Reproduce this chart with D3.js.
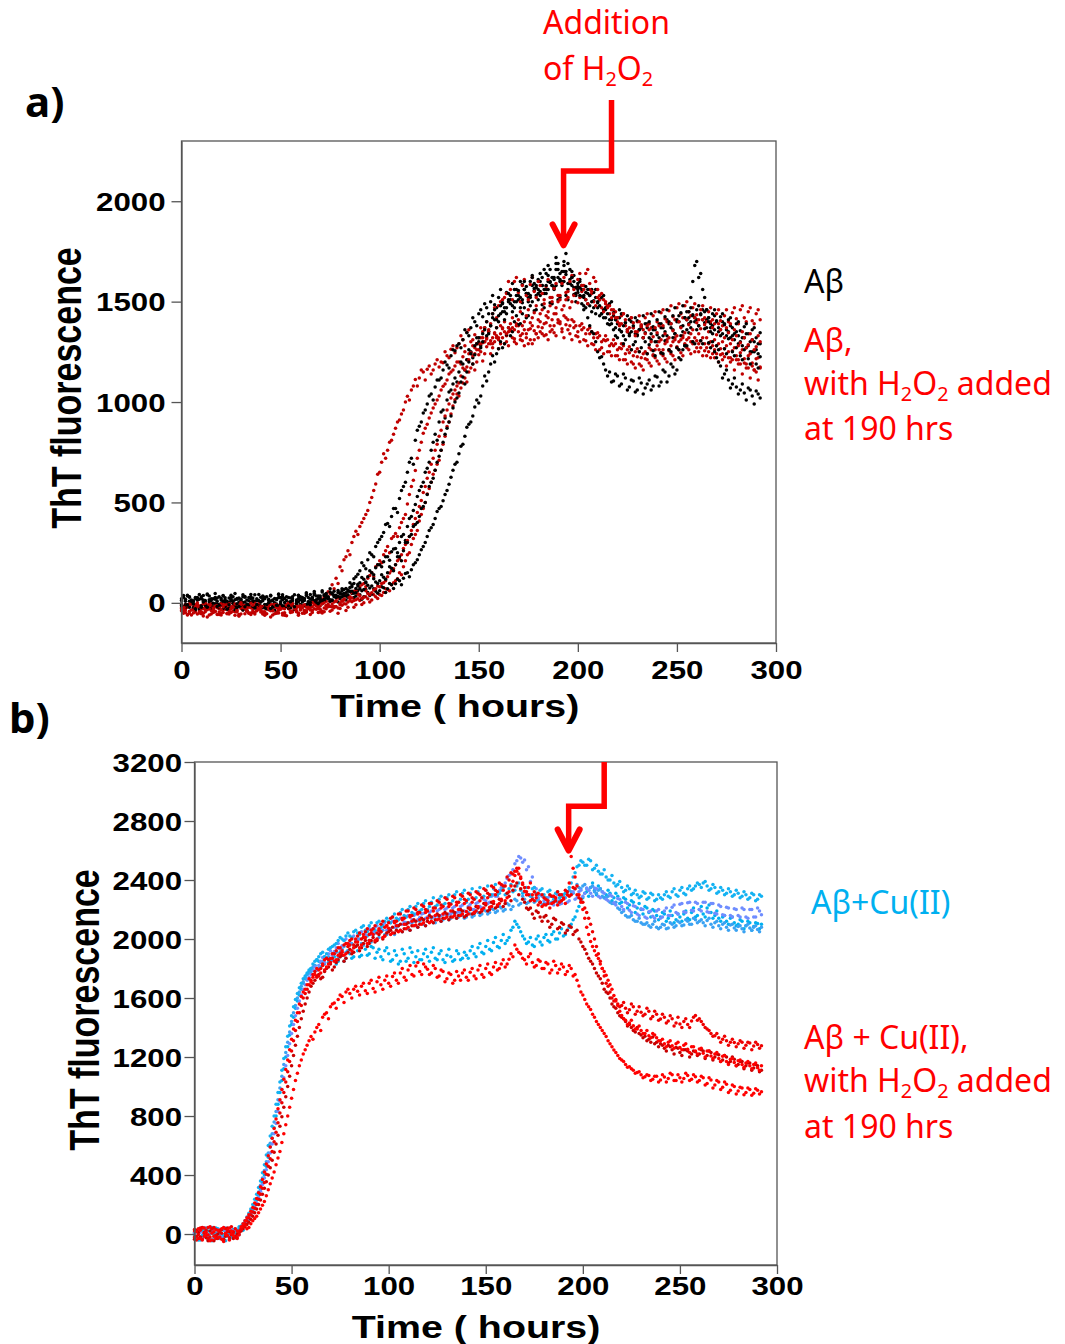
<!DOCTYPE html>
<html><head><meta charset="utf-8">
<script src="https://cdn.jsdelivr.net/npm/d3@7"></script>
<style>body{margin:0;background:#fff}</style>
</head><body>
<svg id="c" width="1065" height="1344" xmlns="http://www.w3.org/2000/svg"></svg>
<script>
// sampling grids (hours): readings every hour, stored as even-hour and odd-hour arrays
const hoursEven = d3.range(0, 293, 2); // 0..292 (147)
const hoursOdd = d3.range(1, 292, 2);  // 1..291 (146)
const xTicks = [0, 50, 100, 150, 200, 250, 300];
const yTicksA = [0, 500, 1000, 1500, 2000];
const yTicksB = [0, 400, 800, 1200, 1600, 2000, 2400, 2800, 3200];

// ================= panel a: Aβ (black) =================
const aBlack1 = [12,-25,30,5,-18,22,-8,15,-30,8,
-12,25,3,-20,18,-5,28,-15,10,-22,
6,20,-28,14,-6,24,-18,2,30,-10,
16,-14,26,8,34,12,40,22,48,30,
44,66,58,90,130,160,185,215,240,280,
315,350,395,430,470,520,580,650,720,810,
880,945,990,1040,1075,1110,1160,1185,1230,1255,
1290,1310,1345,1370,1400,1440,1425,1470,1500,1485,
1520,1490,1545,1510,1560,1530,1585,1540,1600,1565,
1610,1580,1640,1595,1620,1660,1600,1635,1590,1570,
1545,1580,1510,1530,1470,1495,1440,1460,1410,1430,
1390,1350,1395,1340,1370,1330,1380,1345,1320,1360,
1335,1370,1350,1390,1360,1400,1375,1420,1390,1435,
1410,1440,1395,1420,1380,1405,1360,1390,1350,1330,
1350,1300,1320,1280,1310,1260,1290];
const aBlack1Odd = [-20,38,-5,26,-34,10,44,-26,18,-8,
34,-30,12,46,-14,2,-38,22,40,-6,
-24,30,8,-36,42,16,-10,24,-30,36,
4,44,18,56,-2,60,24,70,36,52,
70,50,100,120,142,200,170,250,230,300,
330,390,380,470,450,560,600,700,690,860,
900,960,1030,1010,1110,1120,1200,1170,1260,1280,
1270,1360,1330,1420,1380,1460,1490,1440,1530,1470,
1560,1470,1510,1590,1500,1600,1560,1520,1630,1580,
1550,1660,1600,1580,1690,1610,1650,1560,1620,1530,
1600,1520,1490,1560,1440,1510,1420,1480,1390,1370,
1420,1330,1360,1400,1300,1360,1320,1390,1340,1300,
1390,1330,1410,1370,1340,1430,1380,1450,1400,1420,
1380,1460,1410,1370,1430,1350,1400,1330,1380,1310,
1330,1280,1340,1250,1300,1240];
const aBlack2 = [-5,18,-22,10,26,-14,4,-28,20,-6,
14,-18,24,-2,-24,12,32,-10,6,20,
-16,28,0,-20,16,-4,22,-26,10,4,
-8,20,6,28,2,34,18,30,44,26,
50,38,64,80,72,100,118,130,150,175,
190,205,230,255,270,300,340,380,430,490,
560,600,670,760,840,900,960,1010,1060,1120,
1150,1190,1210,1250,1280,1300,1340,1330,1380,1410,
1400,1450,1440,1490,1470,1510,1495,1540,1520,1555,
1540,1580,1560,1600,1570,1620,1595,1650,1610,1630,
1590,1560,1575,1530,1545,1500,1520,1470,1490,1445,
1420,1440,1395,1410,1380,1405,1370,1390,1400,1375,
1410,1390,1425,1400,1430,1410,1445,1420,1450,1430,
1460,1435,1450,1420,1440,1400,1425,1385,1410,1370,
1390,1355,1375,1340,1360,1320,1345];
const aBlack2Odd = [28,-12,6,-34,18,36,-22,12,-4,30,
-28,8,38,-16,24,-36,14,2,-20,42,
10,-30,34,-8,26,40,-18,6,-32,22,
14,36,-10,48,22,12,40,54,30,62,
30,72,56,96,84,126,104,160,140,190,
180,230,212,268,250,330,310,420,460,530,
580,650,700,800,810,950,920,1050,1090,1100,
1200,1160,1260,1220,1320,1280,1370,1350,1420,1370,
1440,1410,1500,1450,1530,1470,1560,1500,1580,1530,
1600,1540,1630,1580,1660,1600,1680,1590,1650,1570,
1610,1530,1560,1500,1560,1480,1530,1440,1500,1410,
1460,1380,1430,1350,1420,1360,1430,1370,1440,1360,
1450,1370,1460,1390,1470,1400,1480,1410,1470,1400,
1480,1410,1460,1390,1460,1370,1440,1360,1420,1340,
1400,1320,1390,1300,1370,1290];
const aBlack3 = [20,-10,8,-24,14,30,-12,6,-20,24,
-2,16,-26,8,22,-14,4,26,-18,10,
28,-8,12,-22,20,6,-16,26,-4,14,
-10,22,4,18,-6,24,10,28,14,32,
20,36,28,46,34,40,30,52,44,58,
60,75,70,90,95,110,122,150,165,200,
240,280,330,374,420,470,508,560,626,690,
743,790,875,900,975,995,1080,1105,1190,1200,
1265,1270,1335,1330,1400,1385,1440,1420,1480,1455,
1510,1485,1540,1495,1560,1510,1580,1530,1590,1535,
1560,1525,1545,1480,1505,1470,1440,1420,1385,1360,
1320,1350,1310,1330,1285,1335,1270,1300,1285,1255,
1300,1245,1305,1260,1320,1270,1330,1280,1345,1300,
1360,1305,1365,1295,1340,1280,1330,1265,1315,1250,
1270,1230,1260,1215,1250,1190,1225];
const aBlack3Odd = [-18,34,2,22,-30,14,40,-6,26,-24,
36,-12,18,-34,4,30,-20,42,8,-16,
20,-28,38,0,-14,32,12,-26,40,6,
26,-8,42,10,34,-4,46,16,38,4,
44,14,58,26,62,18,66,36,70,48,
80,52,96,72,118,90,146,130,190,215,
265,300,360,390,455,480,540,590,660,700,
780,830,890,930,1010,1030,1130,1150,1230,1240,
1300,1290,1370,1350,1430,1390,1470,1430,1500,1460,
1530,1470,1560,1490,1580,1520,1600,1510,1580,1500,
1570,1480,1540,1450,1520,1430,1460,1390,1410,1330,
1360,1290,1350,1260,1340,1250,1320,1240,1310,1230,
1320,1240,1330,1250,1340,1260,1350,1280,1370,1290,
1380,1290,1370,1270,1360,1260,1340,1240,1320,1230,
1290,1210,1270,1190,1250,1170];
const aBlack4 = [-15,8,28,-6,16,-22,12,34,-2,-18,
22,6,-10,30,-4,18,-20,10,24,-8,
4,-24,18,10,-12,26,2,-16,20,-2,
30,12,-4,24,16,8,36,20,12,38,
28,46,40,58,50,70,66,88,84,104,
110,128,150,172,190,230,260,300,340,390,
430,480,540,600,660,730,800,870,930,1000,
1045,1125,1150,1240,1235,1320,1300,1400,1380,1460,
1430,1495,1470,1530,1500,1555,1510,1575,1530,1590,
1560,1620,1580,1660,1610,1690,1650,1740,1660,1600,
1575,1490,1470,1380,1340,1250,1225,1160,1150,1105,
1130,1090,1120,1075,1105,1060,1095,1070,1110,1080,
1125,1100,1150,1130,1175,1160,1210,1280,1420,1600,
1700,1640,1520,1400,1300,1220,1180,1140,1110,1090,
1075,1060,1045,1070,1030,1055,1020];
const aBlack4Odd = [36,-10,14,-30,42,4,-22,20,46,-12,
8,-32,26,16,-18,40,-6,28,-26,12,
34,-8,-28,22,44,-14,30,6,-20,38,
18,50,2,40,-4,54,26,8,58,32,
60,34,76,48,92,60,100,74,120,96,
140,118,180,160,230,210,300,330,380,400,
470,500,580,620,700,760,840,900,970,1020,
1100,1090,1200,1190,1290,1270,1360,1340,1440,1410,
1480,1450,1540,1480,1560,1520,1600,1540,1620,1570,
1640,1560,1680,1620,1720,1640,1700,1690,1620,1540,
1530,1460,1420,1350,1300,1220,1190,1130,1100,1140,
1080,1140,1060,1110,1050,1120,1040,1090,1060,1130,
1080,1160,1100,1190,1140,1220,1260,1360,1520,1680,
1620,1560,1460,1350,1250,1200,1120,1160,1070,1120,
1040,1090,1010,1060,990,1040];

// ========== panel a: Aβ with H2O2 added at 190 h (red) ==========
const aRed1 = [-30,-8,-42,-20,-55,-15,-35,-5,-48,-25,
-60,-18,-38,-2,-45,-28,-12,-52,-30,-40,
-20,-58,-34,-10,-46,-24,-62,-30,-14,-44,
-22,-38,-6,-20,10,0,30,55,90,122,
180,215,260,300,357,380,420,460,525,592,
650,743,760,810,870,911,960,1029,1060,1112,
1120,1150,1163,1140,1190,1175,1196,1230,1263,1245,
1290,1310,1347,1300,1335,1290,1350,1320,1305,1345,
1310,1370,1330,1355,1300,1380,1340,1320,1365,1310,
1375,1340,1395,1350,1380,1410,1365,1420,1380,1400,
1350,1390,1340,1370,1320,1345,1300,1330,1280,1310,
1260,1290,1240,1275,1230,1265,1220,1250,1270,1235,
1280,1245,1290,1255,1300,1270,1310,1285,1320,1290,
1305,1270,1290,1250,1280,1240,1265,1225,1250,1210,
1230,1190,1215,1170,1195,1150,1175];
const aRed1Odd = [-52,-22,-4,-46,-30,-66,-12,-38,-20,-58,
-34,-6,-48,-26,-64,-16,-40,-24,-56,-8,
-44,-28,-70,-18,-36,-52,-10,-48,-26,-62,
-14,-44,-24,2,-22,18,8,44,70,96,
160,230,240,330,340,400,440,500,560,640,
700,720,800,840,900,940,1000,1010,1080,1080,
1160,1110,1180,1160,1210,1200,1250,1220,1280,1270,
1330,1280,1360,1310,1290,1370,1300,1360,1290,1320,
1380,1290,1350,1320,1390,1310,1360,1290,1380,1340,
1400,1330,1420,1360,1440,1390,1430,1360,1410,1330,
1380,1310,1360,1290,1340,1260,1310,1250,1290,1230,
1270,1210,1260,1200,1250,1190,1240,1210,1260,1220,
1260,1230,1310,1240,1320,1260,1330,1270,1300,1250,
1290,1230,1270,1220,1260,1200,1240,1180,1220,1160,
1210,1140,1190,1120,1160,1110];
const aRed2 = [-10,-36,-18,-50,0,-28,-44,-12,-26,-58,
-4,-32,-48,-16,-36,-8,-54,-22,-40,-14,
-46,-26,-6,-38,-52,-18,-30,-2,-44,-24,
-36,-10,-28,-48,-14,-32,0,-20,-6,10,
-2,20,34,50,62,80,96,122,150,180,
210,240,280,320,345,374,420,492,580,659,
760,844,890,945,990,1030,1079,1110,1150,1180,
1200,1225,1210,1247,1270,1260,1295,1314,1290,1340,
1320,1365,1340,1390,1360,1410,1380,1430,1395,1445,
1410,1460,1430,1480,1440,1500,1460,1510,1470,1530,
1495,1550,1510,1560,1500,1520,1470,1490,1440,1460,
1400,1430,1380,1410,1370,1400,1385,1420,1390,1430,
1400,1445,1415,1455,1425,1470,1440,1480,1450,1470,
1435,1460,1420,1450,1410,1440,1405,1430,1400,1445,
1415,1460,1420,1450,1405,1440,1410];
const aRed2Odd = [-22,-60,-4,-38,-16,-52,-30,-6,-44,-20,
-48,-14,-30,-62,-10,-36,-24,-50,-2,-32,
-18,-54,-36,-12,-28,-60,-8,-40,-22,-50,
-26,-46,-4,-30,-20,-42,-14,8,-18,24,
10,36,22,58,44,90,80,136,130,190,
200,260,250,330,330,400,440,540,610,720,
800,870,920,970,1010,1060,1090,1140,1160,1200,
1190,1250,1240,1280,1260,1320,1300,1350,1320,1370,
1340,1400,1370,1420,1380,1450,1400,1460,1420,1480,
1440,1490,1450,1520,1470,1530,1480,1550,1500,1570,
1520,1580,1490,1540,1480,1510,1450,1480,1420,1450,
1380,1440,1360,1420,1350,1430,1360,1440,1370,1450,
1380,1460,1400,1480,1410,1490,1420,1500,1430,1490,
1410,1480,1400,1470,1390,1460,1380,1460,1390,1470,
1390,1480,1400,1470,1390,1460];
const aRed3 = [-40,-16,-52,-28,-8,-44,-22,-60,-34,-12,
-50,-26,-4,-42,-18,-56,-30,-10,-48,-20,
-34,-62,-14,-40,-24,-6,-50,-28,-44,-16,
-30,-52,-20,-38,-8,-46,-26,-12,-36,-18,
-28,-4,-22,6,-10,12,0,20,14,30,
40,52,66,90,110,150,180,240,290,340,
408,470,542,600,660,710,790,878,940,1012,
1030,1095,1100,1170,1160,1235,1205,1275,1240,1300,
1265,1320,1300,1360,1315,1350,1305,1340,1310,1355,
1320,1370,1335,1380,1345,1395,1350,1385,1340,1370,
1325,1360,1305,1340,1285,1320,1270,1305,1250,1280,
1230,1265,1210,1245,1190,1225,1180,1215,1195,1230,
1205,1240,1215,1260,1230,1275,1245,1290,1260,1300,
1270,1305,1255,1290,1240,1280,1235,1265,1220,1255,
1210,1245,1195,1230,1180,1215,1170];
const aRed3Odd = [-24,-58,-36,-10,-50,-28,-70,-14,-42,-30,
-6,-54,-20,-44,-66,-12,-38,-58,-24,-4,
-50,-26,-8,-54,-36,-20,-64,-12,-32,-56,
-18,-40,-58,-6,-30,-50,-14,-42,-24,-52,
-12,-38,10,-22,20,-8,30,4,40,22,
36,70,60,100,120,140,210,250,320,360,
440,500,570,640,690,760,830,900,980,1040,
1070,1120,1150,1190,1200,1250,1240,1290,1270,1330,
1290,1350,1280,1370,1290,1330,1280,1360,1290,1340,
1350,1390,1310,1410,1330,1400,1320,1410,1310,1380,
1300,1370,1280,1350,1260,1330,1240,1310,1230,1290,
1210,1280,1190,1260,1170,1250,1160,1240,1180,1260,
1190,1260,1200,1280,1210,1300,1230,1310,1240,1320,
1250,1320,1230,1300,1220,1290,1210,1280,1200,1270,
1190,1260,1170,1240,1160,1220];
const aRed4 = [-24,-48,-6,-36,-20,-54,-2,-30,-46,-14,
-34,-8,-56,-22,-40,0,-26,-50,-12,-38,
-18,-44,-28,-60,-10,-32,-50,-20,-4,-38,
-14,-40,-24,2,-32,-16,-44,-6,-20,8,
-10,14,4,24,16,34,28,46,50,70,
80,100,130,160,190,220,270,310,360,420,
480,550,620,690,760,830,900,960,1020,1060,
1095,1170,1175,1245,1240,1320,1320,1400,1390,1470,
1480,1510,1540,1560,1600,1545,1580,1530,1585,1550,
1600,1540,1575,1520,1565,1530,1590,1545,1600,1560,
1610,1580,1640,1590,1620,1560,1540,1500,1480,1440,
1420,1390,1410,1370,1395,1350,1375,1340,1360,1325,
1345,1310,1340,1320,1355,1330,1370,1345,1385,1360,
1395,1365,1385,1350,1370,1335,1360,1320,1345,1310,
1330,1295,1320,1285,1310,1275,1300];
const aRed4Odd = [-40,-10,-60,-22,-44,-4,-34,-56,-16,-46,
-20,-52,-30,-6,-58,-24,-42,-2,-48,-28,
-56,-14,-40,-8,-50,-26,-12,-44,-30,-18,
-52,-22,-36,-10,-48,-4,-30,-18,4,-26,
8,-6,30,12,44,22,60,40,64,84,
96,110,148,170,210,240,290,330,390,450,
510,580,650,720,790,860,930,990,1040,1080,
1130,1160,1210,1230,1290,1290,1370,1350,1440,1420,
1500,1520,1600,1510,1620,1500,1610,1510,1620,1520,
1580,1510,1610,1500,1590,1510,1620,1520,1630,1540,
1640,1560,1660,1550,1600,1530,1510,1470,1460,1420,
1390,1440,1350,1420,1330,1400,1320,1380,1300,1370,
1300,1380,1300,1390,1310,1400,1320,1410,1340,1420,
1340,1410,1320,1400,1310,1390,1300,1370,1290,1360,
1280,1350,1270,1340,1260,1330];

// ================= panel b: Aβ+Cu(II) (blue) =================
const bBlue1 = [10,-40,25,-20,45,-5,35,-30,15,-15,
30,0,40,70,100,160,230,300,400,520,
650,800,960,1120,1270,1420,1530,1620,1700,1760,
1800,1820,1850,1830,1870,1860,1880,1850,1890,1870,
1900,1880,1920,1890,1930,1900,1940,1910,1880,1920,
1900,1860,1890,1850,1900,1870,1910,1880,1860,1900,
1880,1910,1870,1900,1860,1890,1880,1860,1900,1870,
1890,1920,1900,1940,1910,1950,1930,1977,1950,1990,
1970,2010,2080,2100,2050,2000,1980,1960,2000,1980,
2010,1990,2030,2000,2040,2020,2060,2100,2150,2220,
2280,2320,2350,2330,2360,2320,2300,2310,2280,2290,
2250,2270,2230,2250,2210,2200,2220,2180,2200,2160,
2150,2170,2140,2160,2130,2150,2170,2140,2180,2150,
2200,2170,2210,2180,2160,2140,2150,2120,2140,2110,
2100,2120,2090,2110,2085,2105,2100];
const bBlue1Odd = [-30,35,-15,20,-45,40,0,-25,30,-10,
15,50,25,85,130,195,265,350,460,590,
720,880,1040,1200,1350,1470,1580,1660,1730,1780,
1790,1860,1810,1880,1840,1900,1830,1910,1850,1920,
1870,1950,1880,1960,1890,1950,1870,1930,1860,1940,
1850,1920,1830,1930,1850,1940,1840,1920,1860,1930,
1850,1940,1860,1920,1840,1930,1850,1920,1860,1910,
1870,1950,1880,1970,1900,1990,1920,2010,1940,2030,
1990,2060,2120,2080,2020,1970,2010,1950,2020,1960,
2030,1980,2050,2000,2070,2030,2080,2130,2190,2260,
2310,2290,2380,2300,2340,2280,2330,2260,2310,2240,
2280,2210,2260,2180,2240,2170,2210,2150,2190,2130,
2180,2120,2190,2110,2170,2120,2190,2130,2210,2160,
2220,2150,2230,2140,2190,2120,2160,2100,2150,2090,
2130,2070,2120,2060,2110,2070];
const bBlue2 = [-25,20,-10,40,-35,10,-20,30,-45,5,
-15,25,55,90,140,200,270,360,470,600,
730,880,1030,1190,1340,1480,1590,1670,1730,1770,
1800,1850,1880,1910,1900,1940,1960,1990,2000,2020,
2020,2050,2040,2080,2060,2090,2070,2110,2080,2120,
2120,2150,2140,2180,2160,2200,2180,2220,2190,2240,
2200,2250,2220,2270,2230,2280,2240,2300,2250,2310,
2250,2310,2270,2320,2280,2330,2290,2340,2300,2330,
2300,2340,2320,2360,2330,2320,2300,2340,2310,2330,
2300,2320,2290,2310,2280,2300,2320,2380,2450,2500,
2520,2500,2530,2480,2460,2440,2420,2400,2380,2370,
2350,2330,2340,2310,2300,2290,2310,2280,2300,2270,
2280,2300,2290,2320,2300,2330,2310,2340,2330,2360,
2370,2380,2360,2340,2350,2320,2330,2310,2320,2300,
2310,2290,2300,2280,2300,2270,2290];
const bBlue2Odd = [15,-40,30,-15,45,-30,20,-5,35,-20,
10,40,70,115,170,235,315,415,535,665,
800,960,1110,1270,1410,1540,1630,1700,1750,1790,
1830,1860,1900,1880,1930,1950,1970,2010,1990,2040,
2010,2060,2030,2090,2050,2110,2060,2120,2090,2140,
2110,2170,2130,2200,2150,2220,2170,2240,2200,2260,
2220,2280,2230,2290,2240,2300,2260,2320,2270,2330,
2270,2340,2280,2350,2290,2360,2300,2370,2310,2350,
2310,2370,2330,2380,2310,2350,2290,2350,2300,2340,
2280,2330,2270,2320,2290,2310,2350,2420,2490,2530,
2500,2540,2470,2500,2440,2470,2400,2430,2360,2390,
2320,2360,2300,2330,2280,2320,2270,2310,2260,2300,
2270,2320,2280,2340,2290,2350,2300,2360,2340,2380,
2350,2390,2330,2370,2310,2350,2300,2340,2290,2330,
2280,2320,2270,2310,2260,2300];
const bBlue3 = [5,30,-25,15,-40,35,0,-20,25,-10,
20,-5,35,65,105,150,210,290,380,490,
610,750,900,1060,1210,1360,1480,1580,1660,1720,
1760,1810,1820,1875,1870,1920,1915,1970,1955,2000,
1975,2020,2000,2050,2030,2070,2045,2090,2065,2110,
2070,2120,2095,2140,2115,2160,2130,2170,2145,2175,
2150,2190,2155,2200,2165,2210,2170,2220,2185,2230,
2185,2235,2200,2250,2210,2260,2250,2300,2290,2350,
2380,2430,2470,2530,2550,2535,2490,2420,2340,2300,
2260,2280,2240,2275,2235,2285,2250,2300,2270,2320,
2290,2345,2310,2345,2290,2320,2270,2300,2245,2275,
2220,2250,2195,2225,2170,2205,2150,2185,2155,2190,
2140,2190,2160,2215,2180,2235,2185,2245,2195,2250,
2200,2250,2185,2240,2175,2230,2165,2215,2160,2205,
2160,2210,2150,2200,2150,2210,2165];
const bBlue3Odd = [-20,10,40,-30,20,-10,30,-35,5,25,
-15,15,50,85,125,180,250,335,435,550,
680,830,980,1140,1290,1420,1530,1620,1690,1740,
1790,1790,1850,1840,1900,1890,1940,1930,1990,1970,
2010,1990,2040,2010,2060,2030,2080,2050,2100,2060,
2110,2080,2130,2100,2150,2110,2160,2130,2170,2140,
2180,2150,2190,2160,2200,2170,2210,2180,2220,2190,
2220,2200,2240,2220,2270,2240,2290,2290,2330,2360,
2410,2440,2510,2560,2520,2470,2390,2350,2280,2290,
2240,2290,2230,2300,2240,2310,2260,2320,2280,2330,
2310,2330,2290,2340,2280,2310,2260,2290,2230,2270,
2200,2240,2180,2220,2160,2200,2140,2190,2140,2200,
2150,2210,2160,2230,2170,2240,2180,2250,2190,2240,
2190,2250,2180,2240,2170,2220,2160,2210,2150,2200,
2150,2200,2140,2200,2150,2190];
const bBlue4 = [-5,15,-30,30,0,-25,20,-10,40,-35,
5,25,45,80,120,170,240,330,430,550,
680,830,990,1150,1300,1440,1550,1640,1710,1760,
1780,1820,1800,1850,1870,1850,1900,1880,1930,1910,
1960,1940,1990,1970,2010,1990,2030,2000,2050,2030,
2060,2040,2080,2060,2100,2070,2110,2090,2120,2100,
2120,2140,2110,2150,2130,2160,2140,2170,2150,2160,
2150,2170,2160,2180,2170,2190,2180,2200,2190,2210,
2200,2230,2220,2260,2240,2270,2250,2280,2260,2250,
2240,2260,2250,2270,2260,2290,2300,2320,2340,2350,
2360,2340,2350,2320,2330,2290,2280,2250,2240,2210,
2180,2160,2150,2130,2120,2110,2100,2090,2100,2080,
2080,2095,2075,2100,2090,2110,2095,2120,2100,2130,
2120,2110,2125,2100,2110,2090,2100,2080,2095,2075,
2085,2070,2090,2075,2080,2065,2080];
const bBlue4Odd = [20,-20,10,-40,35,5,-30,25,-15,10,
35,-5,60,95,145,200,285,380,490,615,
760,910,1070,1230,1370,1500,1600,1680,1740,1770,
1810,1790,1840,1830,1880,1860,1910,1880,1950,1920,
1970,1950,2000,1960,2020,1980,2040,2010,2060,2030,
2070,2030,2090,2050,2110,2060,2120,2080,2130,2090,
2150,2110,2160,2120,2170,2130,2180,2140,2180,2140,
2180,2150,2190,2160,2200,2170,2210,2180,2220,2190,
2240,2200,2270,2230,2290,2240,2300,2250,2270,2230,
2270,2240,2290,2250,2300,2280,2330,2310,2370,2340,
2370,2330,2360,2310,2340,2280,2290,2240,2250,2200,
2190,2150,2160,2120,2140,2100,2110,2080,2120,2070,
2100,2070,2110,2080,2120,2090,2130,2100,2140,2110,
2130,2090,2140,2080,2120,2070,2110,2060,2100,2060,
2090,2050,2100,2060,2090,2050];

// ========== panel b: Aβ+Cu(II) with H2O2 added at 190 h (red) ==========
const bRed1 = [20,-30,40,-10,-45,15,-25,35,-5,-40,
10,-20,30,60,45,90,120,170,220,300,
380,470,560,680,800,920,1040,1140,1220,1280,
1339,1370,1420,1470,1500,1540,1567,1590,1610,1640,
1630,1660,1645,1680,1650,1700,1665,1710,1690,1720,
1700,1745,1720,1770,1740,1790,1760,1817,1780,1830,
1795,1770,1800,1750,1780,1730,1760,1720,1749,1770,
1740,1775,1750,1790,1760,1800,1772,1810,1790,1830,
1810,1863,1880,1931,1900,1860,1880,1840,1820,1850,
1800,1830,1790,1820,1795,1810,1780,1800,1760,1681,
1620,1560,1522,1470,1420,1380,1339,1290,1248,1210,
1180,1150,1134,1110,1095,1080,1066,1075,1050,1070,
1045,1065,1055,1080,1040,1060,1055,1075,1050,1066,
1040,1060,1020,1045,1010,1030,995,1015,975,1000,
970,990,960,980,955,975,964];
const bRed1Odd = [-40,25,-15,45,5,-30,20,-50,30,0,
-25,15,50,35,70,105,145,195,260,340,
420,515,620,740,860,980,1090,1180,1250,1310,
1320,1400,1380,1490,1460,1560,1530,1620,1570,1660,
1600,1680,1620,1700,1630,1720,1640,1740,1660,1750,
1680,1770,1700,1800,1720,1820,1750,1840,1760,1810,
1760,1820,1740,1790,1710,1770,1700,1780,1720,1790,
1720,1800,1730,1820,1740,1830,1760,1840,1800,1860,
1830,1900,1960,1910,1870,1830,1900,1810,1860,1800,
1840,1770,1850,1770,1830,1760,1820,1750,1720,1640,
1590,1540,1490,1440,1400,1360,1310,1270,1230,1190,
1170,1130,1120,1090,1100,1060,1080,1040,1070,1030,
1080,1030,1090,1040,1080,1030,1090,1040,1080,1030,
1070,1010,1060,990,1040,980,1030,960,1010,950,
995,945,990,940,985,950];
const bRed2 = [-20,35,-40,10,50,-15,25,-35,5,40,
-10,20,50,90,130,180,240,320,420,530,
650,780,910,1050,1180,1320,1450,1560,1640,1690,
1709,1760,1790,1830,1810,1868,1850,1890,1920,1900,
1959,1940,1980,1960,2010,1990,2030,2000,2050,2020,
2073,2040,2090,2060,2100,2080,2120,2095,2130,2110,
2141,2120,2160,2135,2170,2150,2190,2160,2200,2170,
2187,2210,2180,2220,2200,2240,2215,2255,2230,2270,
2260,2320,2392,2460,2420,2323,2350,2300,2280,2250,
2232,2260,2240,2280,2250,2278,2300,2560,2420,2300,
2200,2080,1983,1920,1868,1800,1754,1690,1617,1550,
1481,1450,1430,1412,1390,1380,1360,1344,1360,1330,
1310,1290,1300,1276,1290,1265,1280,1253,1270,1240,
1255,1225,1240,1207,1220,1190,1205,1170,1185,1162,
1175,1150,1160,1140,1150,1128,1140];
const bRed2Odd = [15,-30,40,-5,-40,30,-20,45,-10,20,
35,-5,70,110,155,210,280,370,475,590,
715,850,980,1115,1250,1390,1500,1610,1660,1730,
1740,1800,1770,1860,1830,1900,1860,1940,1890,1970,
1920,2000,1940,2030,1970,2060,1990,2070,2010,2090,
2030,2110,2050,2130,2070,2150,2090,2170,2100,2180,
2110,2190,2130,2210,2140,2220,2150,2230,2160,2240,
2170,2250,2190,2260,2210,2280,2220,2300,2240,2330,
2280,2360,2430,2480,2380,2300,2380,2260,2310,2220,
2270,2210,2290,2230,2300,2240,2380,2480,2360,2250,
2140,2030,1950,1890,1830,1780,1720,1660,1580,1510,
1460,1420,1450,1390,1410,1360,1380,1330,1350,1310,
1320,1270,1310,1260,1300,1250,1290,1230,1270,1220,
1260,1200,1240,1190,1230,1170,1210,1150,1190,1140,
1180,1130,1170,1120,1160,1110];
const bRed3 = [30,-5,-35,25,-20,45,-30,5,35,-25,
15,-30,35,70,110,150,200,270,350,460,
560,690,820,960,1100,1240,1380,1500,1600,1660,
1720,1780,1750,1820,1870,1840,1900,1940,1910,1970,
1990,1960,2020,2000,2050,2030,2070,2040,2100,2080,
2110,2150,2120,2170,2140,2190,2160,2200,2180,2220,
2190,2240,2210,2250,2220,2270,2235,2280,2250,2290,
2260,2300,2270,2310,2280,2330,2300,2350,2320,2370,
2360,2400,2440,2480,2410,2350,2300,2270,2300,2250,
2280,2240,2290,2260,2300,2270,2320,2300,2340,2280,
2250,2180,2100,2000,1900,1800,1700,1640,1580,1560,
1549,1530,1520,1540,1510,1503,1490,1510,1475,1490,
1458,1470,1445,1460,1430,1424,1440,1420,1445,1481,
1460,1420,1390,1360,1344,1330,1320,1310,1300,1298,
1290,1300,1280,1295,1275,1285,1276];
const bRed3Odd = [-15,40,10,-30,35,-10,25,-40,15,50,
-20,20,55,90,130,175,235,310,405,510,
625,755,890,1030,1170,1310,1440,1550,1630,1690,
1760,1740,1800,1790,1860,1870,1920,1900,1960,1950,
2000,1980,2040,2010,2070,2040,2090,2060,2120,2090,
2140,2120,2170,2140,2190,2160,2210,2180,2230,2200,
2240,2210,2260,2230,2280,2240,2290,2250,2300,2270,
2310,2280,2320,2300,2340,2310,2360,2330,2380,2360,
2420,2450,2460,2440,2370,2320,2260,2320,2230,2300,
2230,2300,2250,2320,2260,2330,2290,2350,2300,2270,
2210,2140,2050,1950,1850,1750,1680,1600,1590,1540,
1570,1500,1560,1490,1540,1480,1530,1460,1510,1450,
1490,1430,1480,1410,1470,1400,1460,1400,1470,1450,
1440,1400,1380,1340,1360,1300,1340,1280,1320,1270,
1310,1260,1300,1250,1300,1260];
const bRed4 = [-35,10,45,-25,20,-45,0,30,-15,15,
-30,0,20,50,80,120,170,230,310,400,
500,610,730,860,1000,1140,1280,1400,1510,1600,
1680,1720,1760,1740,1800,1830,1810,1860,1890,1870,
1930,1910,1960,1940,1990,1970,2010,1990,2050,2020,
2050,2080,2060,2100,2070,2110,2090,2120,2100,2130,
2120,2150,2130,2160,2140,2170,2150,2180,2160,2190,
2160,2200,2175,2210,2190,2230,2200,2240,2220,2260,
2240,2290,2330,2380,2340,2250,2200,2170,2190,2150,
2150,2120,2100,2130,2080,2100,2060,2080,2050,2000,
1950,1900,1850,1800,1750,1700,1640,1600,1540,1500,
1470,1440,1420,1380,1400,1350,1340,1320,1335,1300,
1290,1260,1280,1250,1265,1230,1250,1240,1220,1235,
1220,1240,1210,1230,1200,1215,1180,1200,1170,1185,
1150,1170,1140,1160,1125,1140,1110];
const bRed4Odd = [25,-20,5,-45,35,-10,15,-35,40,-5,
-15,10,35,65,100,145,200,270,355,450,
555,670,795,930,1070,1210,1340,1460,1560,1640,
1700,1750,1730,1780,1810,1790,1840,1880,1850,1910,
1900,1950,1920,1970,1950,1990,1980,2030,2000,2040,
2060,2040,2090,2050,2100,2060,2130,2080,2140,2090,
2160,2110,2170,2120,2180,2130,2190,2140,2200,2150,
2210,2170,2220,2180,2240,2190,2250,2210,2270,2220,
2310,2260,2360,2300,2270,2210,2210,2140,2180,2120,
2160,2080,2140,2070,2110,2040,2090,2030,2060,1980,
1930,1870,1830,1770,1730,1660,1630,1560,1530,1480,
1460,1410,1400,1370,1360,1330,1310,1300,1290,1270,
1280,1240,1270,1220,1260,1210,1250,1200,1240,1210,
1250,1190,1240,1180,1220,1170,1210,1160,1200,1140,
1170,1120,1160,1110,1150,1100];

const svg = d3.select('#c');
svg.append('rect').attr('width',1065).attr('height',1344).attr('fill','#fff');

const SX = 1.25; // horizontal stretch of the bold axis fonts
const AXF = "'Liberation Sans', Arial, sans-serif";
const LBF = "'Noto Sans', 'Open Sans', sans-serif";

function pts(even, odd){
  const out = [];
  even.forEach((v,i)=>out.push([hoursEven[i], v]));
  odd.forEach((v,i)=>out.push([hoursOdd[i], v]));
  return out;
}

function panel(cfg){
  const x = d3.scaleLinear().domain([0,300]).range([cfg.x0,cfg.x1]);
  const y = d3.scaleLinear().domain(cfg.yDom).range([cfg.y1,cfg.y0]);
  const g = svg.append('g');
  cfg.series.forEach(s => {
    g.append('g').selectAll('circle').data(pts(s.even, s.odd)).join('circle')
      .attr('cx',d=>x(d[0])).attr('cy',d=>y(d[1]))
      .attr('r',1.75).attr('fill',s.color);
  });
  g.append('rect').attr('x',cfg.x0).attr('y',cfg.y0)
    .attr('width',cfg.x1-cfg.x0).attr('height',cfg.y1-cfg.y0)
    .attr('fill','none').attr('stroke','#555').attr('stroke-width',1.3);
  const ax = g.append('g').attr('transform',`translate(0,${cfg.y1})`)
    .call(d3.axisBottom(x).tickValues(xTicks).tickSize(9).tickSizeOuter(0).tickFormat(d3.format('d')));
  ax.select('.domain').attr('stroke','#555').attr('stroke-width',1.3);
  ax.selectAll('.tick line').attr('stroke','#555').attr('stroke-width',1.3);
  ax.selectAll('.tick text').attr('y',cfg.xLabOff).attr('dy',0)
    .attr('font-family',AXF).attr('font-weight','bold').attr('font-size',25)
    .attr('fill','#000').attr('transform',`scale(${SX},1)`);
  const ay = g.append('g').attr('transform',`translate(${cfg.x0},0)`)
    .call(d3.axisLeft(y).tickValues(cfg.yTicks).tickSize(10).tickSizeOuter(0).tickFormat(d3.format('d')));
  ay.select('.domain').attr('stroke','#555').attr('stroke-width',1.3);
  ay.selectAll('.tick line').attr('stroke','#555').attr('stroke-width',1.3);
  ay.selectAll('.tick text').attr('x',-cfg.yLabOff/SX).attr('dy','0.36em')
    .attr('font-family',AXF).attr('font-weight','bold').attr('font-size',25)
    .attr('fill','#000').attr('transform',`scale(${SX},1)`);
  svg.append('text').attr('transform',`translate(${cfg.xt[0]},${cfg.xt[1]}) scale(1.23,1)`)
    .attr('text-anchor','middle').attr('font-family',AXF).attr('font-weight','bold')
    .attr('font-size',32).text('Time ( hours)');
  svg.append('text').attr('transform',`translate(${cfg.yt[0]},${cfg.yt[1]}) rotate(-90) scale(1,1.25)`)
    .attr('text-anchor','middle').attr('font-family',AXF).attr('font-weight','bold')
    .attr('font-size',34).text('ThT fluorescence');
  // H2O2 arrow
  const ar = cfg.arrow;
  const ptx = x(ar.tShaft), pty = y(ar.vTip);
  g.append('path')
    .attr('d',`M${x(ar.tTop)},${ar.yStart} V${y(ar.vElbow)} H${ptx} V${pty-4}`)
    .attr('fill','none').attr('stroke','#ff0000').attr('stroke-width',5.5).attr('stroke-linejoin','miter');
  g.append('path')
    .attr('d',`M${ptx-11},${pty-21} L${ptx},${pty} L${ptx+11},${pty-21}`)
    .attr('fill','none').attr('stroke','#ff0000').attr('stroke-width',6)
    .attr('stroke-linejoin','round').attr('stroke-linecap','round');
}

function richText(px, py, parts, color, size){
  const t = svg.append('text').attr('x',px).attr('y',py).attr('font-family',LBF)
    .attr('font-size',size).attr('fill',color);
  let sub = false;
  parts.forEach(p => {
    const s = t.append('tspan').text(p.t);
    if (p.sub){ s.attr('font-size',size*0.62); if(!sub){ s.attr('dy',6); sub = true; } }
    else if (sub){ s.attr('dy',-6); sub = false; }
  });
  return t;
}

// panel a
panel({
  x0:181.5, x1:776, y0:141, y1:643, yDom:[-200,2300], yTicks:yTicksA,
  xLabOff:36, yLabOff:16, xt:[455,717], yt:[81,388],
  arrow:{tTop:217, yStart:100, vElbow:2150, tShaft:192.8, vTip:1780},
  series:[
    {even:aRed1, odd:aRed1Odd, color:'#c00000'}, {even:aBlack1, odd:aBlack1Odd, color:'#000000'},
    {even:aRed3, odd:aRed3Odd, color:'#c00000'}, {even:aBlack3, odd:aBlack3Odd, color:'#000000'},
    {even:aRed2, odd:aRed2Odd, color:'#c00000'}, {even:aBlack2, odd:aBlack2Odd, color:'#000000'},
    {even:aRed4, odd:aRed4Odd, color:'#c00000'}, {even:aBlack4, odd:aBlack4Odd, color:'#000000'}
  ]
});
// panel b
panel({
  x0:194.5, x1:777, y0:762, y1:1265, yDom:[-210,3200], yTicks:yTicksB,
  xLabOff:30, yLabOff:12.5, xt:[476,1338], yt:[99,1010],
  arrow:{tTop:211, yStart:762, vElbow:2900, tShaft:192.7, vTip:2600},
  series:[
    {even:bBlue1, odd:bBlue1Odd, color:'#00b0f0'}, {even:bBlue4, odd:bBlue4Odd, color:'#3aa2f2'},
    {even:bBlue3, odd:bBlue3Odd, color:'#6f8dff'}, {even:bBlue2, odd:bBlue2Odd, color:'#14b2f2'},
    {even:bRed4, odd:bRed4Odd, color:'#c80000'}, {even:bRed1, odd:bRed1Odd, color:'#ff0000'},
    {even:bRed3, odd:bRed3Odd, color:'#ee0000'}, {even:bRed2, odd:bRed2Odd, color:'#ff0000'}
  ]
});

// panel letters
svg.append('text').attr('x',25).attr('y',117).attr('font-family',LBF).attr('font-weight','bold')
  .attr('font-size',42).text('a)');
svg.append('text').attr('x',9).attr('y',733).attr('font-family',LBF).attr('font-weight','bold')
  .attr('font-size',42).text('b)');

// annotation
richText(543, 34, [{t:'Addition'}], '#ff0000', 32);
richText(543, 80, [{t:'of H'},{t:'2',sub:true},{t:'O'},{t:'2',sub:true}], '#ff0000', 32);

// legends panel a
richText(804, 293, [{t:'Aβ'}], '#000000', 32);
richText(804, 352, [{t:'Aβ,'}], '#ff0000', 32);
richText(804, 395, [{t:'with H'},{t:'2',sub:true},{t:'O'},{t:'2',sub:true},{t:' added'}], '#ff0000', 32);
richText(804, 440, [{t:'at 190 hrs'}], '#ff0000', 32);
// legends panel b
richText(811, 914, [{t:'Aβ+Cu(II)'}], '#00b0f0', 32);
richText(804, 1049, [{t:'Aβ + Cu(II),'}], '#ff0000', 32);
richText(804, 1092, [{t:'with H'},{t:'2',sub:true},{t:'O'},{t:'2',sub:true},{t:' added'}], '#ff0000', 32);
richText(804, 1138, [{t:'at 190 hrs'}], '#ff0000', 32);
</script>
</body></html>
